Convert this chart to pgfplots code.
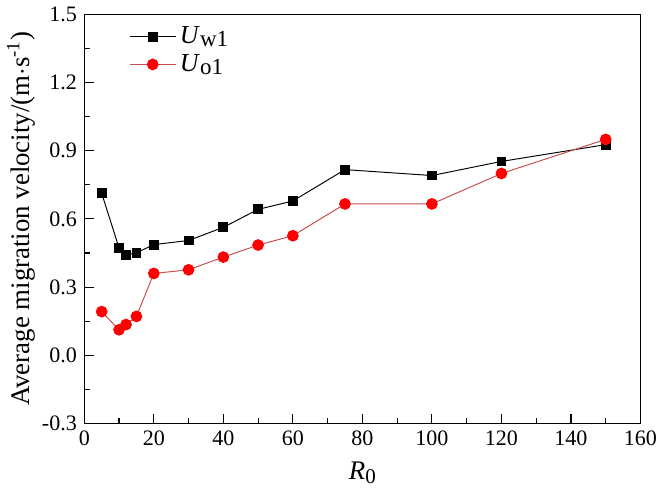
\documentclass[border=0pt]{standalone}
\usepackage{pgfplots}
\pgfplotsset{compat=1.18}
\usepackage{fontspec}
\setmainfont{Liberation Serif}
\definecolor{lred}{rgb}{0.78,0.3,0.3}
\begin{document}
\fontsize{11}{13}\selectfont
\begin{tikzpicture}
\begin{axis}[
  scale only axis,
  width=10.2cm, height=7.5cm,
  xmin=0, xmax=160, ymin=-0.3, ymax=1.5,
  xtick={0,20,...,160},
  ytick={-0.3,0,0.3,0.6,0.9,1.2,1.5},
  minor x tick num=1, minor y tick num=1,
  tick align=inside,
  xtick pos=bottom, ytick pos=left,
  major tick length=5pt, minor tick length=3pt,
  every tick/.style={black, line width=0.6pt},
  axis line style={line width=0.8pt},
  /pgf/number format/assume math mode=true,
  yticklabel style={/pgf/number format/.cd, fixed, fixed zerofill, precision=1},
  ticklabel style={font=\fontsize{11.5}{13}\selectfont},
  xlabel={\textit{R}\raisebox{-0.3ex}{\fontsize{11}{13}\selectfont 0}},
  ylabel={Average migration velocity/(m$\cdot$s\textsuperscript{-1})},
  label style={font=\fontsize{14}{16}\selectfont},
  ylabel style={yshift=-4pt},
  xlabel style={yshift=-1pt},
  legend style={draw=none, fill=none, at={(0.07,0.99)}, anchor=north west, font=\fontsize{13.5}{15}\selectfont, row sep=0pt},
  legend image code/.code={
    \draw[#1, mark repeat=2, mark phase=2] plot coordinates {(0cm,0cm) (0.42cm,0cm) (0.84cm,0cm)};
  },
  legend cell align=left,
]
\addplot[black, line width=0.5pt, mark=square*, mark size=2.3pt, mark options={fill=black}] coordinates {
(5,0.713) (10,0.472) (12,0.441) (15,0.451) (20,0.487) (30,0.505) (40,0.563) (50,0.642) (60,0.679) (75,0.817) (100,0.791) (120,0.853) (150,0.927)
};
\addlegendentry{\textit{U}\raisebox{-0.25ex}{\fontsize{12}{13}\selectfont w1}}
\addplot[lred, line width=0.5pt, mark=*, mark size=2.8pt, mark options={fill=red, draw=red}] coordinates {
(5,0.192) (10,0.112) (12,0.135) (15,0.171) (20,0.360) (30,0.376) (40,0.432) (50,0.485) (60,0.526) (75,0.666) (100,0.666) (120,0.800) (150,0.950)
};
\addlegendentry{\textit{U}\raisebox{-0.25ex}{\fontsize{12}{13}\selectfont o1}}
\end{axis}
\end{tikzpicture}
\end{document}
